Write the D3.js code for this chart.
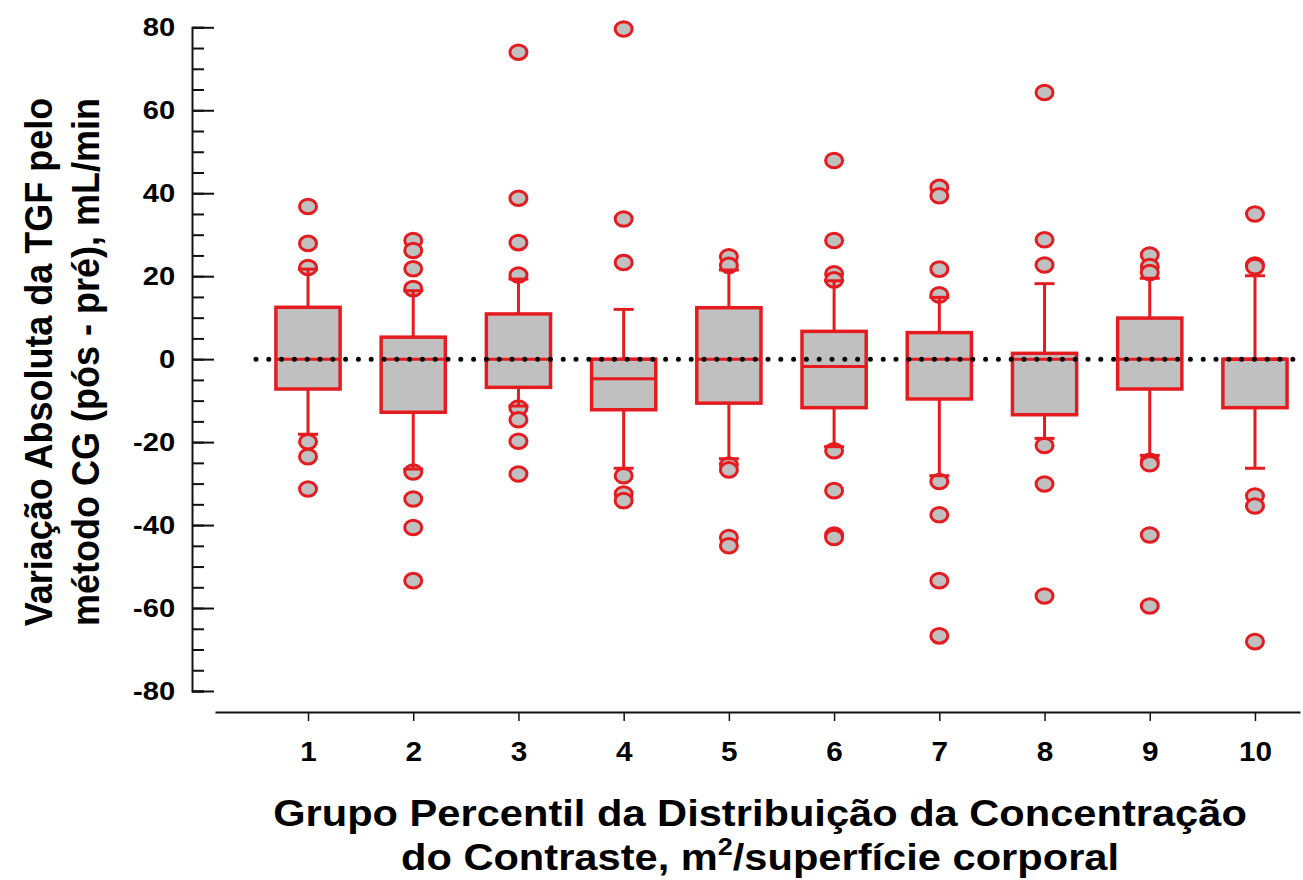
<!DOCTYPE html>
<html>
<head>
<meta charset="utf-8">
<script src="https://cdn.jsdelivr.net/npm/d3@7"></script>
<style>
  body { margin: 0; background: #fff; }
  svg text { font-family: "Liberation Sans", Arial, sans-serif; font-weight: bold; fill: #000; }
</style>
</head>
<body>
<div id="chart"></div>
<script>
// values
const groups = [1, 2, 3, 4, 5, 6, 7, 8, 9, 10]
const q1 = [-7.2, -12.8, -6.8, -12.2, -10.6, -11.7, -9.6, -13.4, -7.2, -11.7]
const median = [0, 0, 0, -4.7, 0, -1.8, 0, 0, 0, 0]
const q3 = [12.5, 5.3, 10.9, 0, 12.4, 6.7, 6.4, 1.4, 9.9, 0]
const whiskerLow = [-18.1, -26.5, -11.3, -26.3, -24.0, -21.1, -28.1, -19.1, -23.2, -26.3]
const whiskerHigh = [21.7, 16.5, 19.3, 12.0, 21.5, 18.9, 14.9, 18.2, 19.5, 20.1]
const outliers = [
  [36.8, 27.9, 22.1, -19.9, -23.5, -31.3],
  [28.6, 26.2, 21.8, 17.0, -27.2, -33.7, -40.6, -53.4],
  [74.0, 38.8, 28.1, 20.3, -11.8, -14.6, -19.8, -27.7],
  [79.6, 33.8, 23.3, -28.1, -32.5, -34.1],
  [24.7, 22.6, -25.5, -26.7, -43.0, -45.0],
  [47.9, 28.6, 20.6, 19.1, -22.1, -31.7, -42.4, -43.0],
  [41.4, 39.4, 21.7, 15.5, -29.5, -37.5, -53.4, -66.7],
  [64.3, 28.8, 22.7, -20.8, -30.1, -57.1],
  [25.1, 22.3, 20.9, -24.6, -25.2, -42.4, -59.5],
  [35.0, 22.7, 22.3, -33.0, -35.4, -68.1]
]
const yMajorTicks = [-80, -60, -40, -20, 0, 20, 40, 60, 80]
const refLine = 0

const red = "#e41b1f", grey = "#c0c0c0"
const W = 1303, H = 880

const svg = d3.select("#chart").append("svg")
  .attr("width", W)
  .attr("height", H)

// scales
const x = d3.scaleLinear().domain([0.116, 10.428]).range([215, 1300])
const y = d3.scaleLinear().domain([-80, 80]).range([691, 27.3])
const step = x(2) - x(1)
const boxW = step * 0.61, capW = step * 0.19

// y axis: minor ticks every 5, major every 20
svg.append("g")
  .attr("transform", "translate(192,0)")
  .call(d3.axisLeft(y).tickValues(d3.range(-80, 81, 5)).tickSize(-12).tickFormat(""))
  .call(g => g.selectAll("line").attr("stroke", "#111").attr("stroke-width", 2))
  .call(g => g.select(".domain").attr("stroke", "#111").attr("stroke-width", 2))

svg.append("g")
  .attr("transform", "translate(192,0)")
  .call(d3.axisLeft(y).tickValues(yMajorTicks).tickSize(-22).tickPadding(15).tickSizeOuter(0)
    .tickFormat(d => String(d)))
  .call(g => g.select(".domain").remove())
  .call(g => g.selectAll("line").attr("stroke", "#111").attr("stroke-width", 2))
  .call(g => g.selectAll("text")
    .attr("font-size", 26)
    .attr("font-family", "Liberation Sans, Arial, sans-serif")
    .attr("font-weight", "bold")
    .attr("transform", "scale(1.12,1)"))

// x axis
svg.append("g")
  .attr("transform", `translate(0,${712})`)
  .call(d3.axisBottom(x).tickValues(groups).tickSize(9).tickPadding(21).tickSizeOuter(0))
  .call(g => g.select(".domain").attr("stroke", "#111").attr("stroke-width", 2))
  .call(g => g.selectAll("line").attr("stroke", "#111").attr("stroke-width", 1.5))
  .call(g => g.selectAll("text")
    .attr("font-size", 27)
    .attr("font-family", "Liberation Sans, Arial, sans-serif")
    .attr("font-weight", "bold")
    .attr("transform", "scale(1.1,1)"))

const data = groups.map((g, i) => ({
  g: g, q1: q1[i], med: median[i], q3: q3[i],
  lo: whiskerLow[i], hi: whiskerHigh[i], out: outliers[i]
}))

// outliers first, whiskers drawn over them
const pts = data.flatMap(d => d.out.map(v => ({g: d.g, v: v})))
svg.append("g").selectAll("ellipse")
  .data(pts)
  .join("ellipse")
    .attr("cx", d => x(d.g))
    .attr("cy", d => y(d.v))
    .attr("rx", 8.5)
    .attr("ry", 7.3)
    .attr("fill", grey)
    .attr("stroke", red)
    .attr("stroke-width", 3)

const box = svg.append("g").selectAll("g")
  .data(data)
  .join("g")

// whiskers
box.append("line")
  .attr("x1", d => x(d.g)).attr("x2", d => x(d.g))
  .attr("y1", d => y(d.hi)).attr("y2", d => y(d.q3))
  .attr("stroke", red).attr("stroke-width", 3)
box.append("line")
  .attr("x1", d => x(d.g)).attr("x2", d => x(d.g))
  .attr("y1", d => y(d.q1)).attr("y2", d => y(d.lo))
  .attr("stroke", red).attr("stroke-width", 3)
// caps
box.append("line")
  .attr("x1", d => x(d.g) - capW / 2).attr("x2", d => x(d.g) + capW / 2)
  .attr("y1", d => y(d.hi)).attr("y2", d => y(d.hi))
  .attr("stroke", red).attr("stroke-width", 3)
box.append("line")
  .attr("x1", d => x(d.g) - capW / 2).attr("x2", d => x(d.g) + capW / 2)
  .attr("y1", d => y(d.lo)).attr("y2", d => y(d.lo))
  .attr("stroke", red).attr("stroke-width", 3)
// box
box.append("rect")
  .attr("x", d => x(d.g) - boxW / 2)
  .attr("y", d => y(d.q3))
  .attr("width", boxW)
  .attr("height", d => y(d.q1) - y(d.q3))
  .attr("fill", grey)
  .attr("stroke", red)
  .attr("stroke-width", 3.5)
// median
box.append("line")
  .attr("x1", d => x(d.g) - boxW / 2).attr("x2", d => x(d.g) + boxW / 2)
  .attr("y1", d => y(d.med)).attr("y2", d => y(d.med))
  .attr("stroke", red).attr("stroke-width", 3)

// dotted reference line at zero
svg.append("line")
  .attr("x1", 256).attr("x2", 1300)
  .attr("y1", y(refLine)).attr("y2", y(refLine))
  .attr("stroke", "#000")
  .attr("stroke-width", 5)
  .attr("stroke-linecap", "round")
  .attr("stroke-dasharray", "0,12.8")

// axis titles
const yTitle = svg.append("g")
  .attr("transform", "translate(0,362)")
yTitle.append("text")
  .attr("transform", "translate(52,0) scale(1.1,1) rotate(-90)")
  .attr("text-anchor", "middle")
  .attr("font-size", 36)
  .text("Variação Absoluta da TGF pelo")
yTitle.append("text")
  .attr("transform", "translate(99,0) scale(1.1,1) rotate(-90)")
  .attr("text-anchor", "middle")
  .attr("font-size", 36)
  .text("método CG (pós - pré), mL/min")

svg.append("text")
  .attr("transform", "translate(760,826) scale(1.125,1)")
  .attr("text-anchor", "middle")
  .attr("font-size", 37)
  .text("Grupo Percentil da Distribuição da Concentração")

const t2 = svg.append("text")
  .attr("transform", "translate(760,870) scale(1.125,1)")
  .attr("text-anchor", "middle")
  .attr("font-size", 37)
t2.append("tspan").text("do Contraste, m")
t2.append("tspan").attr("font-size", 24).attr("dy", -15).text("2")
t2.append("tspan").attr("dy", 15).text("/superfície corporal")
</script>
</body>
</html>
